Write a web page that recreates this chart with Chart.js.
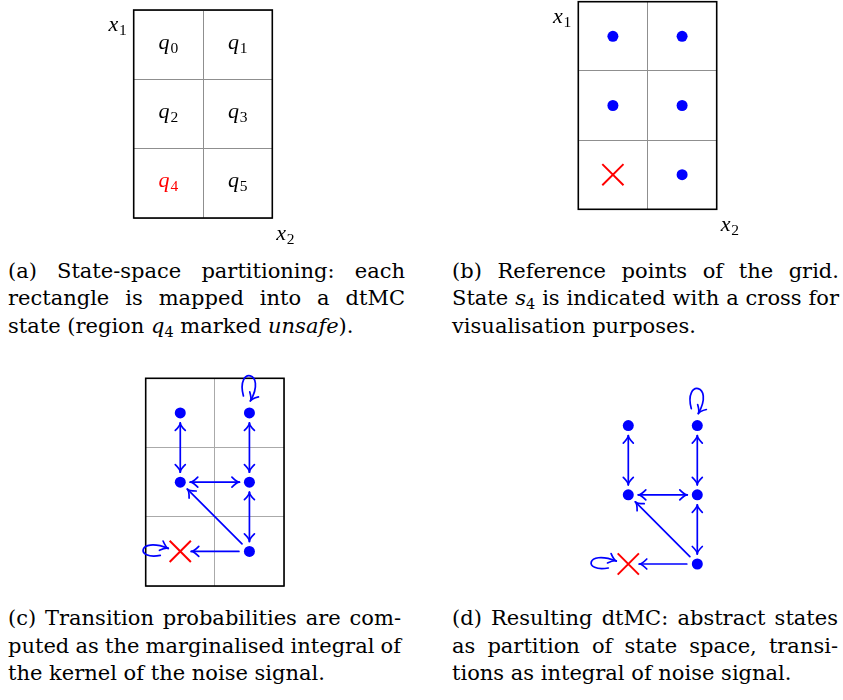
<!DOCTYPE html>
<html><head><meta charset="utf-8">
<script src="https://cdn.jsdelivr.net/npm/chart.js@4.4.1/dist/chart.umd.min.js"></script>
<style>
html,body{margin:0;padding:0;background:#fff;}
body{width:843px;height:700px;position:relative;overflow:hidden;font-family:"DejaVu Serif",serif;color:#000;}
canvas{position:absolute;}
.cap{position:absolute;font-size:21px;line-height:27.7px;}
.cap div{white-space:nowrap;text-align:left;}
.cap sub{font-size:14.5px;vertical-align:-4px;line-height:0;font-style:normal;}
.cap i{font-style:italic;}
</style>
</head><body>
<canvas id="ca"></canvas>
<canvas id="cb"></canvas>
<canvas id="cc"></canvas>
<canvas id="cd"></canvas>

<div class="cap" style="left:8px;top:257.5px;width:397px;">
<div class="j">(a) State-space partitioning: each</div>
<div class="j">rectangle is mapped into a dtMC</div>
<div class="l">state (region <i>q</i><sub>4</sub> marked <i>unsafe</i>).</div>
</div>
<div class="cap" style="left:452px;top:257.5px;width:387px;">
<div class="j">(b) Reference points of the grid.</div>
<div class="j">State <i>s</i><sub>4</sub> is indicated with a cross for</div>
<div class="l">visualisation purposes.</div>
</div>
<div class="cap" style="left:8px;top:605px;width:393px;">
<div class="j">(c) Transition probabilities are com-</div>
<div class="j">puted as the marginalised integral of</div>
<div class="l">the kernel of the noise signal.</div>
</div>
<div class="cap" style="left:452px;top:605px;width:386px;">
<div class="j">(d) Resulting dtMC: abstract states</div>
<div class="j">as partition of state space, transi-</div>
<div class="l">tions as integral of noise signal.</div>
</div>

<script>
// ---------- data ----------
const stateBase = 'q';
const stateSub = ['0','1','2','3','4','5'];
const stateCol = [0.5, 1.5, 0.5, 1.5, 0.5, 1.5];
const stateRow = [0.5, 0.5, 1.5, 1.5, 2.5, 2.5];
const unsafeState = 4;
const colTicks = [0, 1, 2];
const rowTicks = [0, 1, 2, 3];
const transFrom = [0, 1, 2, 3, 5, 5];
const transTo   = [2, 3, 3, 5, 2, 4];
const transBoth = [true, true, true, true, false, false];
const loopStates = [1, 4];
const loopSides = ['above', 'left'];
const axisBase = ['x', 'x'];
const axisSub = ['1', '2'];

// ---------- caption justification ----------
document.querySelectorAll('.cap').forEach(cap => {
  const W = parseFloat(cap.style.width);
  cap.querySelectorAll('.j').forEach(line => {
    const span = document.createElement('span');
    while (line.firstChild) span.appendChild(line.firstChild);
    line.appendChild(span);
    const natural = span.getBoundingClientRect().width;
    const spaces = (line.textContent.match(/ /g) || []).length;
    if (spaces) line.style.wordSpacing = ((W - natural) / spaces) + 'px';
  });
});

// ---------- styles / geometry ----------
const BLUE = '#0000ff', RED = '#ff0000';
const loopShapes = {
  above: [[-6,-17],[-14,-47],[18,-42],[1,-12]],
  left:  [[-20,4],[-45,9],[-43,-15],[-12,-3]]
};

function drawMath(ctx, base, sub, x, y, align, color) {
  ctx.font = 'italic 22px "Liberation Serif"';
  const w1 = ctx.measureText(base).width;
  ctx.font = '15.5px "Liberation Serif"';
  const w2 = ctx.measureText(sub).width;
  const w = w1 + 0.8 + w2;
  let sx = x;
  if (align === 'center') sx = x - w / 2;
  else if (align === 'right') sx = x - w;
  ctx.fillStyle = color;
  ctx.textBaseline = 'alphabetic';
  ctx.textAlign = 'left';
  ctx.font = 'italic 22px "Liberation Serif"';
  ctx.fillText(base, sx, y);
  ctx.font = '15.5px "Liberation Serif"';
  ctx.fillText(sub, sx + w1 + 0.8, y + 4);
}

function head(ctx, tx, ty, ux, uy) {
  const L = 7.5, W = 5;
  ctx.beginPath();
  ctx.moveTo(tx - ux*L - uy*W, ty - uy*L + ux*W);
  ctx.quadraticCurveTo(tx - ux*L*0.35, ty - uy*L*0.35, tx, ty);
  ctx.quadraticCurveTo(tx - ux*L*0.35, ty - uy*L*0.35, tx - ux*L + uy*W, ty - uy*L - ux*W);
  ctx.stroke();
}

const diagramPlugin = {
  id: 'diagram',
  afterDraw(chart, args, o) {
    const ctx = chart.ctx, a = chart.chartArea;
    const xs = chart.scales.x, ys = chart.scales.y;
    const px = i => xs.getPixelForValue(stateCol[i]);
    const py = i => ys.getPixelForValue(stateRow[i]);
    ctx.save();
    if (o.frame) {
      ctx.strokeStyle = '#000'; ctx.lineWidth = 1.6;
      ctx.strokeRect(a.left, a.top, a.right - a.left, a.bottom - a.top);
    }
    if (o.labels) {
      for (let i = 0; i < stateSub.length; i++) {
        drawMath(ctx, stateBase, stateSub[i], px(i), py(i) + 4, 'center', i === unsafeState ? RED : '#000');
      }
    }
    if (o.axisLabels) {
      drawMath(ctx, axisBase[0], axisSub[0], a.left - 7, a.top + 21, 'right', '#000');
      drawMath(ctx, axisBase[1], axisSub[1], a.right + 4, a.bottom + 22, 'left', '#000');
    }
    if (o.arrows) {
      ctx.strokeStyle = BLUE; ctx.lineWidth = 1.7;
      ctx.lineCap = 'round'; ctx.lineJoin = 'round';
      const gap = i => (i === unsafeState ? 11 : 10);
      for (let k = 0; k < transFrom.length; k++) {
        const i = transFrom[k], j = transTo[k];
        const x1 = px(i), y1 = py(i), x2 = px(j), y2 = py(j);
        const d = Math.hypot(x2 - x1, y2 - y1);
        const ux = (x2 - x1) / d, uy = (y2 - y1) / d;
        const g1 = gap(i) + (transBoth[k] ? 0 : 0.5), g2 = gap(j);
        const sx = x1 + ux*g1, sy = y1 + uy*g1, ex = x2 - ux*g2, ey = y2 - uy*g2;
        ctx.beginPath(); ctx.moveTo(sx, sy); ctx.lineTo(ex, ey); ctx.stroke();
        head(ctx, ex, ey, ux, uy);
        if (transBoth[k]) head(ctx, sx, sy, -ux, -uy);
      }
      for (let k = 0; k < loopStates.length; k++) {
        const s = loopStates[k], cx = px(s), cy = py(s);
        const p = loopShapes[loopSides[k]];
        ctx.beginPath();
        ctx.moveTo(cx + p[0][0], cy + p[0][1]);
        ctx.bezierCurveTo(cx + p[1][0], cy + p[1][1], cx + p[2][0], cy + p[2][1], cx + p[3][0], cy + p[3][1]);
        ctx.stroke();
        const dx = p[3][0] - p[2][0], dy = p[3][1] - p[2][1], dd = Math.hypot(dx, dy);
        head(ctx, cx + p[3][0], cy + p[3][1], dx/dd, dy/dd);
      }
    }
    ctx.restore();
  }
};

// canvas rect [left, top, width, height], box [left, top, right, bottom]
function makePanel(id, rect, box, o) {
  const cv = document.getElementById(id);
  cv.width = rect[2]; cv.height = rect[3];
  cv.style.left = rect[0] + 'px'; cv.style.top = rect[1] + 'px';
  cv.style.width = rect[2] + 'px'; cv.style.height = rect[3] + 'px';
  const datasets = [];
  if (o.dots) {
    const safe = [], bad = [];
    for (let i = 0; i < stateCol.length; i++) {
      (i === unsafeState ? bad : safe).push({x: stateCol[i], y: stateRow[i]});
    }
    datasets.push({data: safe, pointStyle: 'circle', pointRadius: 5.5,
      pointBackgroundColor: BLUE, pointBorderColor: BLUE, pointBorderWidth: 0});
    datasets.push({data: bad, pointStyle: 'crossRot', pointRadius: 15,
      pointBackgroundColor: RED, pointBorderColor: RED, pointBorderWidth: 2});
  } else {
    datasets.push({data: stateCol.map((c, i) => ({x: c, y: stateRow[i]})), pointRadius: 0});
  }
  const gridOpt = {display: !!o.grid, drawTicks: false, color: o.gridColor || '#999', lineWidth: 1};
  new Chart(cv, {
    type: 'scatter',
    data: {datasets},
    options: {
      responsive: false, animation: false, devicePixelRatio: 1, events: [],
      layout: {autoPadding: false, padding: {
        left: box[0] - rect[0], top: box[1] - rect[1],
        right: rect[0] + rect[2] - box[2], bottom: rect[1] + rect[3] - box[3]}},
      plugins: {legend: {display: false}, tooltip: {enabled: false}, diagram: o},
      scales: {
        x: {type: 'linear', min: colTicks[0], max: colTicks[colTicks.length-1],
            afterBuildTicks: s => { s.ticks = colTicks.map(v => ({value: v})); },
            ticks: {display: false}, grid: gridOpt, border: {display: false},
            afterFit: s => { s.height = 0; }},
        y: {type: 'linear', reverse: true, min: rowTicks[0], max: rowTicks[rowTicks.length-1],
            afterBuildTicks: s => { s.ticks = rowTicks.map(v => ({value: v})); },
            ticks: {display: false}, grid: gridOpt, border: {display: false},
            afterFit: s => { s.width = 0; }}
      }
    },
    plugins: [diagramPlugin]
  });
}

makePanel('ca', [0, 0, 430, 252], [133.7, 10, 272.3, 218],
  {grid: true, frame: true, labels: true, axisLabels: true, gridColor: '#8f8f8f'});
makePanel('cb', [430, 0, 413, 252], [578.3, 1.7, 716.7, 209.3],
  {grid: true, frame: true, dots: true, axisLabels: true, gridColor: '#8f8f8f'});
makePanel('cc', [0, 350, 430, 250], [145.7, 378.3, 284, 586],
  {grid: true, frame: true, dots: true, arrows: true, gridColor: '#aaaaaa'});
makePanel('cd', [430, 350, 413, 250], [593.8, 391, 731.8, 598.6],
  {dots: true, arrows: true});
</script>
</body></html>
